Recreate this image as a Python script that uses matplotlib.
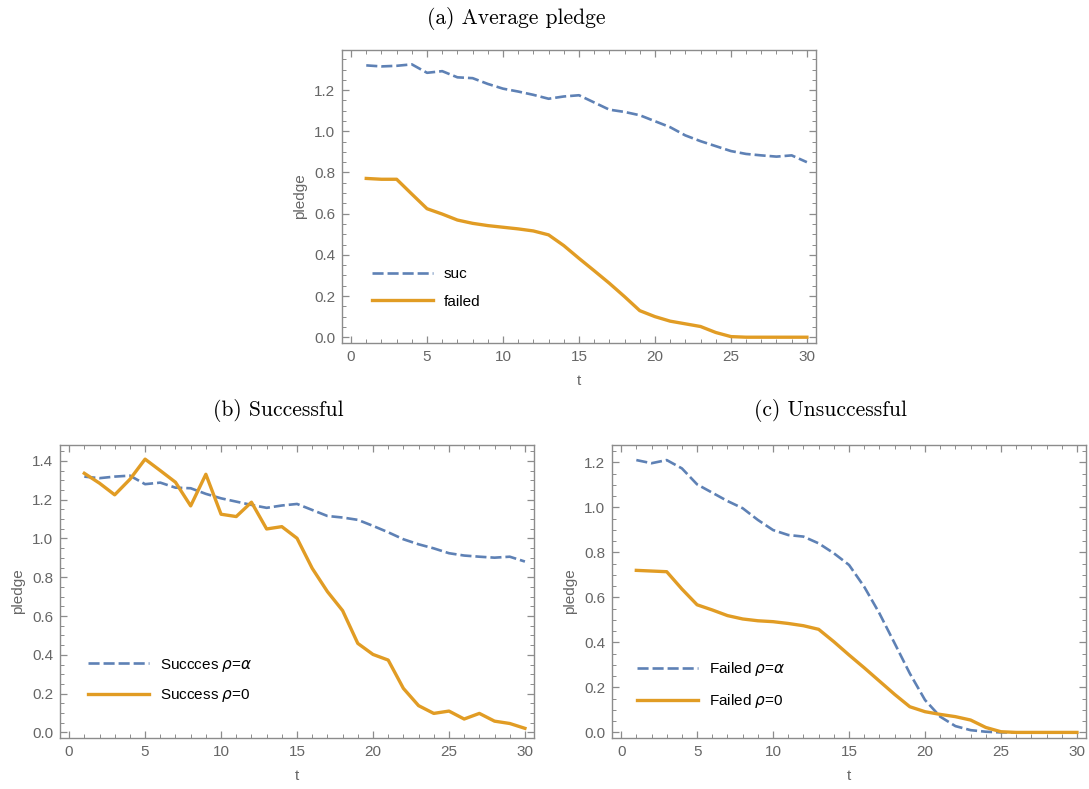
import matplotlib
matplotlib.use("Agg")
import matplotlib.pyplot as plt
from matplotlib.ticker import MultipleLocator

# time steps
t = list(range(1, 31))

# (a) average pledge
avg_suc = [1.32, 1.315, 1.318, 1.325, 1.284, 1.292, 1.262, 1.258, 1.23, 1.207,
           1.193, 1.177, 1.158, 1.169, 1.175, 1.14, 1.105, 1.094, 1.078, 1.049,
           1.02, 0.98, 0.952, 0.928, 0.904, 0.89, 0.883, 0.877, 0.883, 0.85]
avg_failed = [0.771, 0.767, 0.767, 0.695, 0.624, 0.598, 0.569, 0.553, 0.542, 0.534,
              0.526, 0.516, 0.497, 0.445, 0.383, 0.323, 0.262, 0.197, 0.129, 0.1,
              0.078, 0.065, 0.052, 0.023, 0.003, 0.0, 0.0, 0.0, 0.0, 0.0]

# (b) successful
suc_alpha = [1.319, 1.311, 1.319, 1.324, 1.28, 1.288, 1.262, 1.259, 1.23, 1.207,
             1.19, 1.173, 1.158, 1.17, 1.178, 1.147, 1.116, 1.108, 1.096, 1.065,
             1.032, 0.996, 0.97, 0.949, 0.924, 0.912, 0.906, 0.901, 0.906, 0.881]
suc_zero = [1.336, 1.285, 1.225, 1.305, 1.409, 1.35, 1.29, 1.168, 1.331, 1.125,
            1.113, 1.187, 1.049, 1.061, 1.001, 0.846, 0.726, 0.628, 0.459, 0.402,
            0.373, 0.227, 0.138, 0.098, 0.11, 0.069, 0.098, 0.058, 0.046, 0.021]

# (c) unsuccessful
fail_alpha = [1.21, 1.196, 1.21, 1.173, 1.102, 1.065, 1.028, 0.996, 0.944, 0.899,
              0.877, 0.87, 0.84, 0.796, 0.744, 0.647, 0.529, 0.396, 0.262, 0.144,
              0.07, 0.028, 0.01, 0.003, 0.0, 0.0, 0.0, 0.0, 0.0, 0.0]
fail_zero = [0.72, 0.717, 0.714, 0.637, 0.567, 0.544, 0.519, 0.504, 0.496, 0.492,
             0.484, 0.474, 0.458, 0.403, 0.344, 0.287, 0.228, 0.169, 0.114, 0.092,
             0.08, 0.07, 0.055, 0.022, 0.003, 0.0, 0.0, 0.0, 0.0, 0.0]

BLUE = "#5E81B5"
ORANGE = "#E19C24"
FRAME = "#8c8c8c"
LABEL = "#666666"

plt.rcParams["font.family"] = ["Liberation Sans", "DejaVu Sans"]
plt.rcParams["mathtext.fontset"] = "dejavusans"

fig = plt.figure(figsize=(10.89, 7.89), dpi=100)


def panel(rect, y1, y2, labels, ylim, leg_anchor):
    ax = fig.add_axes(rect)
    ax.plot(t, y1, color=BLUE, lw=1.9, dashes=(4.2, 1.5), label=labels[0])
    ax.plot(t, y2, color=ORANGE, lw=2.4, label=labels[1])
    ax.set_xlim(-0.6, 30.6)
    ax.set_ylim(*ylim)
    ax.xaxis.set_major_locator(MultipleLocator(5))
    ax.xaxis.set_minor_locator(MultipleLocator(1))
    ax.yaxis.set_major_locator(MultipleLocator(0.2))
    ax.yaxis.set_minor_locator(MultipleLocator(0.05))
    ax.yaxis.set_major_formatter(lambda v, p: f"{v:.1f}")
    for s in ax.spines.values():
        s.set_color(FRAME)
        s.set_linewidth(1.0)
    ax.tick_params(which="both", direction="in", top=True, right=True,
                   color=FRAME, labelcolor=LABEL, labelsize=11)
    ax.tick_params(which="major", length=5, width=0.9, pad=5)
    ax.tick_params(which="minor", length=2.8, width=0.7)
    ax.set_xlabel("t", color=LABEL, fontsize=11, labelpad=7)
    ax.set_ylabel("pledge", color=LABEL, fontsize=11, labelpad=5)
    ax.legend(loc="center left", bbox_to_anchor=leg_anchor, frameon=False,
              borderpad=0, borderaxespad=0, handlelength=4.0,
              handletextpad=0.7, labelspacing=0.9, fontsize=11)
    return ax


panel([0.314, 0.5653, 0.4353, 0.3714], avg_suc, avg_failed,
      ["suc", "failed"], (-0.028, 1.395), (0.063, 0.188))
panel([0.0551, 0.0646, 0.4353, 0.3714], suc_alpha, suc_zero,
      ["Succces $\\rho$=$\\alpha$", "Success $\\rho$=0"], (-0.029, 1.482), (0.059, 0.196))
panel([0.562, 0.0646, 0.4353, 0.3714], fail_alpha, fail_zero,
      ["Failed $\\rho$=$\\alpha$", "Failed $\\rho$=0"], (-0.025, 1.277), (0.053, 0.181))

tfont = dict(family="cmr10", fontsize=15.5, ha="center", va="center")
fig.text(516 / 1089, 1 - 18 / 789, "(a) Average pledge", **tfont)
fig.text(278 / 1089, 1 - 411 / 789, "(b) Successful", **tfont)
fig.text(830 / 1089, 1 - 411 / 789, "(c) Unsuccessful", **tfont)

fig.savefig("out.png", dpi=100)
